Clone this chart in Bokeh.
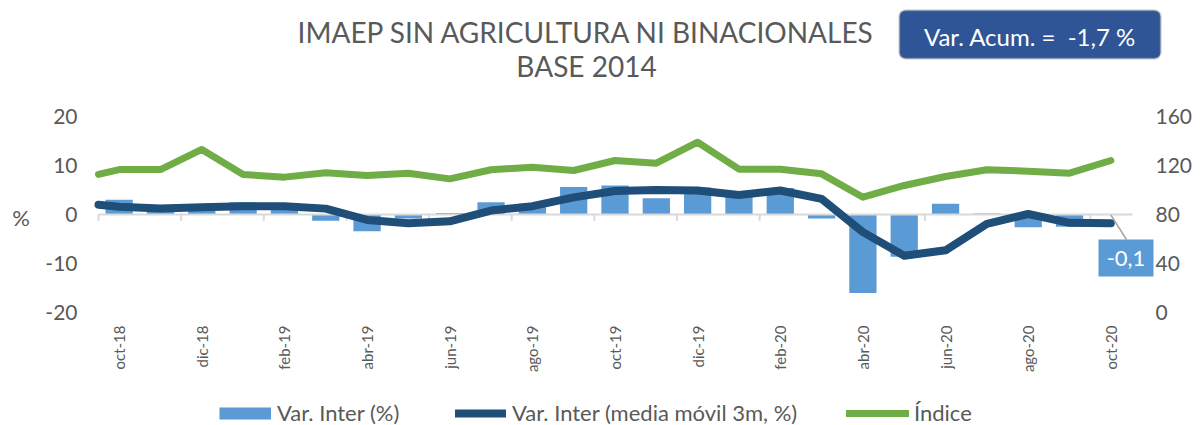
import math
from bokeh.plotting import figure
from bokeh.models import Range1d, Label, Legend, LegendItem, BoxAnnotation
from bokeh.core.properties import value
from bokeh.embed import file_html
from bokeh.resources import INLINE

# ---------------- data ----------------
months = ["oct-18", "nov-18", "dic-18", "ene-19", "feb-19", "mar-19", "abr-19", "may-19",
          "jun-19", "jul-19", "ago-19", "sep-19", "oct-19", "nov-19", "dic-19", "ene-20",
          "feb-20", "mar-20", "abr-20", "may-20", "jun-20", "jul-20", "ago-20", "sep-20",
          "oct-20"]
var_inter = [3.0, 1.0, 1.8, 2.5, 1.8, -1.3, -3.4, -0.8, 0.3, 2.5, 2.2, 5.6, 5.9, 3.3,
             5.5, 3.8, 5.4, -0.8, -16.0, -8.6, 2.2, 0.2, -2.6, -2.5, -0.1]
# values where the lines enter the plot at its left edge (series start before oct-18)
var_ma_edge = 2.0
var_ma = [1.6, 1.2, 1.5, 1.7, 1.7, 1.2, -1.1, -1.8, -1.4, 0.8, 1.7, 3.5, 4.8, 5.0,
          4.9, 4.0, 4.9, 3.2, -3.6, -8.4, -7.3, -1.9, 0.1, -1.7, -1.8]
indice_edge = 112.7
indice = [116.7, 116.7, 133.1, 112.7, 110.5, 114.0, 111.8, 113.7, 109.1, 116.5, 118.6,
          115.9, 124.1, 121.9, 139.0, 117.0, 117.0, 113.2, 94.1, 103.7, 111.0, 116.5,
          115.4, 113.7, 124.1]
left_ticks = [-20, -10, 0, 10, 20]
right_ticks = [0, 40, 80, 120, 160]
title_lines = ["IMAEP SIN AGRICULTURA NI BINACIONALES", "BASE 2014"]
acum_text = "Var. Acum. =\u00a0 -1,7 %"
last_label = "-0,1"
legend_labels = ["Var. Inter (%)", "Var. Inter (media móvil 3m, %)", "Índice"]

# ---------------- styles / layout ----------------
FONT = "Lato"
TXT = "#595959"
C_BAR = "#5B9BD5"
C_MA = "#1F4E79"
C_IND = "#70AD47"

W, H = 1201, 425
n = len(months)
# pixel placement of the plotting area
PX_L, PX_R = 98.0, 1131.0      # x = -0.5 .. n-0.5
PY_T, PY_B = 116.0, 312.0      # y = 20 .. -20
SX = (PX_R - PX_L) / n
SY = (PY_B - PY_T) / 40.0
X0 = -0.5 - PX_L / SX
X1 = (n - 0.5) + (W - PX_R) / SX
Y1 = 20 + PY_T / SY
Y0 = -20 - (H - PY_B) / SY

def dx(px):
    return X0 + px / SX

def dy(py):
    return Y1 - py / SY

p = figure(width=W, height=H, output_backend="svg", toolbar_location=None,
           x_range=Range1d(X0, X1), y_range=Range1d(Y0, Y1),
           min_border=0, min_border_left=0, min_border_right=0,
           min_border_top=0, min_border_bottom=0)
p.axis.visible = False
p.grid.visible = False
p.outline_line_color = None
p.background_fill_color = "white"
p.border_fill_color = "white"
# right axis scale: 0..160 over the same pixels as -20..20
p.extra_y_ranges = {"idx": Range1d(80 + 4 * Y0, 80 + 4 * Y1)}

xs = list(range(n))
bars = p.vbar(x=xs, top=var_inter, bottom=0, width=0.66, fill_color=C_BAR,
              line_color=None)

# category axis line at zero with tick marks every two months
p.segment(x0=[-0.5], y0=[0], x1=[n - 0.5 + 0.03], y1=[0], line_color="#D9D9D9",
          line_width=2)
tick_x = [i - 0.5 for i in range(0, n, 2)]
p.segment(x0=tick_x, y0=[0] * len(tick_x), x1=tick_x, y1=[-1.25] * len(tick_x),
          line_color="#D9D9D9", line_width=2)

xl = [-0.5] + xs
ma = p.line(xl, [var_ma_edge] + var_ma, line_width=8, line_color=C_MA,
            line_cap="round", line_join="round")
ind = p.line(xl, [indice_edge] + indice, y_range_name="idx", line_width=7,
             line_color=C_IND, line_cap="round", line_join="round")

# axis tick labels
p.text(x=[dx(77)] * len(left_ticks), y=left_ticks, text=[str(v) for v in left_ticks],
       text_align="right", text_baseline="middle", text_font=value(FONT),
       text_font_size="21px", text_color=TXT)
p.text(x=[dx(1155)] * len(right_ticks), y=right_ticks, y_range_name="idx",
       text=[str(v) for v in right_ticks], text_align="left", text_baseline="middle",
       text_font=value(FONT), text_font_size="21px", text_color=TXT)
p.text(x=xs[::2], y=[dy(325)] * len(xs[::2]), text=months[::2], angle=math.pi / 2,
       text_align="right", text_baseline="middle", text_font=value(FONT),
       text_font_size="15px", text_color=TXT)

# leader + label for the last bar
p.segment(x0=[xs[-1]], y0=[var_inter[-1]], x1=[dx(1126)], y1=[dy(239)],
          line_color="#A6A6A6", line_width=1.5)
p.add_layout(BoxAnnotation(left=dx(1098), right=dx(1153), top=dy(239), bottom=dy(276),
                           fill_color=C_BAR, fill_alpha=1, line_color=None))
p.add_layout(Label(x=dx(1125.5), y=dy(258), text=last_label, text_align="center",
                   text_baseline="middle", text_font=FONT, text_font_size="22px",
                   text_color="white"))

# "%" axis title
p.add_layout(Label(x=dx(20.5), y=dy(217), text="%", text_align="center",
                   text_baseline="middle", text_font=FONT, text_font_size="22px",
                   text_color=TXT))

# title
p.add_layout(Label(x=dx(586), y=dy(31), text=title_lines[0], text_align="center",
                   text_baseline="middle", text_font=FONT, text_font_size="28px",
                   text_color=TXT))
p.add_layout(Label(x=dx(586), y=dy(65.5), text=title_lines[1], text_align="center",
                   text_baseline="middle", text_font=FONT, text_font_size="28px",
                   text_color=TXT))

# accumulated variation box
p.add_layout(BoxAnnotation(left=dx(899), right=dx(1160), top=dy(10), bottom=dy(58),
                           fill_color="#2F5597", fill_alpha=1, line_color="#7F7F7F",
                           line_width=2.5, border_radius=6))
p.add_layout(Label(x=dx(1029.5), y=dy(35.5), text=acum_text, text_align="center",
                   text_baseline="middle", text_font=FONT, text_font_size="24px",
                   text_color="white"))

# legend key for the bars: a flat 12px stroke (renderer kept outside the visible range)
bar_key = p.line(x=[X0 - 3, X0 - 2], y=[0, 0], line_width=12, line_color=C_BAR,
                 line_cap="butt")

LEG_H = 22
LEG_CY = 415

def make_legend(label, rend, vx, gw, standoff):
    return Legend(items=[LegendItem(label=label, renderers=[rend])],
                  location=(vx, H - LEG_CY - LEG_H / 2), orientation="horizontal",
                  glyph_width=gw, glyph_height=LEG_H, label_standoff=standoff,
                  label_height=LEG_H, padding=0, margin=0, spacing=0,
                  border_line_color=None, background_fill_alpha=0,
                  label_text_font=FONT, label_text_font_size="22px",
                  label_text_color=TXT)

p.add_layout(make_legend(legend_labels[0], bar_key, 219, 52, 6))
p.add_layout(make_legend(legend_labels[1], ma, 455, 51, 6))
p.add_layout(make_legend(legend_labels[2], ind, 846, 63, 5))

open("out.html", "w").write(file_html(p, INLINE))
